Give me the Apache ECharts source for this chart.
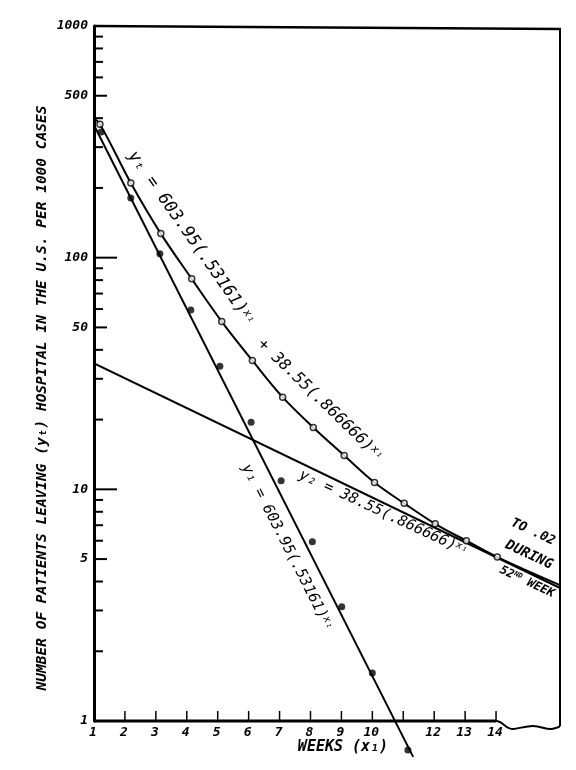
<!DOCTYPE html>
<html><head><meta charset="utf-8">
<script src="https://cdn.jsdelivr.net/npm/echarts@6/dist/echarts.min.js"></script>
<style>html,body{margin:0;padding:0;background:#fff}#c{width:576px;height:770px}</style>
</head><body><div id="c"></div>
<script>
// ---- data ----
const openWeeks   = [1.19, 2.19, 3.16, 4.16, 5.13, 6.12, 7.10, 8.09, 9.09, 10.07, 11.03, 12.03, 13.04, 14.04];
const totalValues = [377, 210, 127, 81, 53, 36, 25, 18.5, 14.0, 10.7, 8.7, 7.1, 6.0, 5.1];
const filledWeeks = [1.23, 2.19, 3.13, 4.13, 5.07, 6.08, 7.05, 8.06, 9.01, 10.0, 11.15];
const y1Values    = [349, 181, 104, 59.4, 34, 19.5, 10.9, 5.94, 3.11, 1.61, 0.75];
const y1LineWeeks = [0.87, 11.32];
const y1LineValues = [404, 0.70];
const y2LineWeeks = [0.71, 16.07];
const y2LineValues = [36.5, 3.75];
const curveStartWeek = 0.90, curveStartValue = 408;
const curveEndWeek = 16.07, curveEndValue = 3.86;
const xTickValues = [1,2,3,4,5,6,7,8,9,10,11,12,13,14];
const xTickLabels = ['1','2','3','4','5','6','7','8','9','10','','12','13','14'];
const yTickValues = [1,2,3,4,5,6,7,8,9,10,20,30,40,50,60,70,80,90,100,200,300,400,500,600,700,800,900,1000];
const yLabelValues = [1,5,10,50,100,500,1000];
const xTitle = 'WEEKS (x\u2081)';
const yTitle = 'NUMBER OF PATIENTS LEAVING (y\u209C) HOSPITAL IN THE U.S. PER 1000 CASES';

const MONO = '"DejaVu Sans Mono", monospace';
const X_MIN = 1, X_MAX = 16.1;
const chart = echarts.init(document.getElementById('c'), null, {renderer: 'canvas'});

const curveData = [[curveStartWeek, curveStartValue]]
  .concat(openWeeks.map((w, i) => [w, totalValues[i]]))
  .concat([[curveEndWeek, curveEndValue]]);

chart.setOption({
  animation: false,
  backgroundColor: '#fff',
  grid: {left: 94, top: 26, width: 467, height: 695},
  xAxis: {
    type: 'value', min: X_MIN, max: X_MAX,
    axisLine: {show: false}, axisTick: {show: false}, axisLabel: {show: false}, splitLine: {show: false}
  },
  yAxis: {
    type: 'log', logBase: 10, min: 1, max: 1000,
    axisLine: {show: true, lineStyle: {color: '#000', width: 3}},
    axisTick: {show: false}, axisLabel: {show: false}, splitLine: {show: false}, minorTick: {show: false}
  },
  series: [
    { // y ticks and labels
      type: 'custom', coordinateSystem: 'cartesian2d', clip: false, silent: true, z: 5,
      data: yTickValues.map(v => [X_MIN, v]),
      renderItem(params, api) {
        const v = api.value(1);
        const p = api.coord([X_MIN, v]);
        const len = (v === 10 || v === 100) ? 23 : (v === 5 || v === 50 || v === 500) ? 13 : 9;
        const children = [];
        if (v !== 1 && v !== 1000) children.push({type: 'line', shape: {x1: p[0], y1: p[1], x2: p[0] + len, y2: p[1]}, style: {stroke: '#000', lineWidth: 2}});
        if (yLabelValues.indexOf(v) >= 0) children.push({type: 'text', x: p[0] - 6, y: p[1], style: {text: String(v), align: 'right', verticalAlign: 'middle', font: 'italic bold 13px ' + MONO, fill: '#000'}});
        return {type: 'group', children};
      }
    },
    { // x ticks and labels
      type: 'custom', coordinateSystem: 'cartesian2d', clip: false, silent: true, z: 5,
      data: xTickValues.map(w => [w, 1]),
      renderItem(params, api) {
        const w = api.value(0);
        const p = api.coord([w, 1]);
        const children = [];
        if (w !== X_MIN) children.push({type: 'line', shape: {x1: p[0], y1: p[1], x2: p[0], y2: p[1] - 10}, style: {stroke: '#000', lineWidth: 1.5}});
        children.push({type: 'text', x: p[0] - 1, y: p[1] + 12, style: {text: xTickLabels[params.dataIndex], align: 'center', verticalAlign: 'middle', font: 'italic bold 13px ' + MONO, fill: '#000'}});
        return {type: 'group', children};
      }
    },
    {type: 'line', clip: false, silent: true, symbol: 'none', lineStyle: {color: '#000', width: 2},
      data: y1LineWeeks.map((w, i) => [w, y1LineValues[i]])},
    {type: 'line', clip: false, silent: true, symbol: 'none', lineStyle: {color: '#000', width: 2},
      data: y2LineWeeks.map((w, i) => [w, y2LineValues[i]])},
    {type: 'line', clip: false, silent: true, symbol: 'none', smooth: 0.35, lineStyle: {color: '#000', width: 2},
      data: curveData},
    {type: 'scatter', clip: false, silent: true, symbol: 'circle', symbolSize: 7, z: 6,
      itemStyle: {color: '#000'}, data: filledWeeks.map((w, i) => [w, y1Values[i]])},
    {type: 'scatter', clip: false, silent: true, symbol: 'circle', symbolSize: 6, z: 6,
      itemStyle: {color: '#fff', borderColor: '#000', borderWidth: 1.5}, data: openWeeks.map((w, i) => [w, totalValues[i]])}
  ]
});

// frame decoration and annotations
const pTopLeft = chart.convertToPixel({gridIndex: 0}, [X_MIN, 1000]);
const pStart = chart.convertToPixel({gridIndex: 0}, [X_MIN, 1]);
const pEnd14 = chart.convertToPixel({gridIndex: 0}, [14, 1]);
const pRight = chart.convertToPixel({gridIndex: 0}, [X_MAX, 1]);
const bx = pEnd14[0], by = pEnd14[1], rx = pRight[0] - 1;

function bez(x1, y1, c1x, c1y, c2x, c2y, x2, y2) {
  return {type: 'bezierCurve', silent: true, shape: {x1, y1, cpx1: c1x, cpy1: c1y, cpx2: c2x, cpy2: c2y, x2, y2}, style: {stroke: '#000', lineWidth: 2, fill: null}};
}
const deg = Math.PI / 180;
function txt(x, y, angle, text, font, rich) {
  const s = {text, font, fill: '#000', align: 'center', verticalAlign: 'middle'};
  if (rich) s.rich = rich;
  return {type: 'text', x, y, rotation: -angle * deg, silent: true, z: 10, style: s};
}
const supRich = (size, supSize) => ({
  a: {font: 'italic ' + size + 'px ' + MONO, fill: '#000', verticalAlign: 'middle'},
  b: {font: 'italic ' + supSize + 'px ' + MONO, fill: '#000', verticalAlign: 'top'}
});

chart.setOption({
  graphic: [
    {type: 'line', silent: true, shape: {x1: pStart[0], y1: pStart[1], x2: bx, y2: by}, style: {stroke: '#000', lineWidth: 3}},
    {type: 'line', silent: true, shape: {x1: pTopLeft[0], y1: pTopLeft[1], x2: rx + 1, y2: pTopLeft[1] + 3}, style: {stroke: '#000', lineWidth: 2.5}},
    {type: 'line', silent: true, shape: {x1: rx, y1: pTopLeft[1] + 3, x2: rx, y2: by + 5}, style: {stroke: '#000', lineWidth: 2}},
    bez(bx, by, bx + 7, by, bx + 10, by + 9, bx + 18, by + 8),
    bez(bx + 18, by + 8, bx + 25, by + 7, bx + 30, by + 5, bx + 37, by + 5),
    bez(bx + 37, by + 5, bx + 45, by + 5, bx + 50, by + 9, bx + 56, by + 8),
    bez(bx + 56, by + 8, rx - 3, by + 7, rx - 1, by + 6, rx, by + 5),
    txt(42, 398, -90, yTitle, 'italic bold 14.5px ' + MONO),
    txt(343, 747, 0, xTitle, 'italic bold 15px ' + MONO),
    txt(191, 238, 55, '{a|y\u209C = 603.95(.53161)}{b|x\u2081}', '', supRich(17, 11)),
    txt(320, 400, 44, '{a|+ 38.55(.866666)}{b|x\u2081}', '', supRich(16, 11)),
    txt(287, 547, 63, '{a|y\u2081 = 603.95(.53161)}{b|x\u2081}', '', supRich(15, 10)),
    txt(383, 513, 25, '{a|y\u2082 = 38.55(.866666)}{b|x\u2081}', '', supRich(15, 10)),
    txt(533, 532, 25, 'TO .02', 'italic bold 13px ' + MONO),
    txt(529, 555, 25, 'DURING', 'italic bold 14px ' + MONO),
    txt(527, 582, 25, '{a|52}{b|ND}{a| WEEK}', '', {
      a: {font: 'italic bold 12px ' + MONO, fill: '#000', verticalAlign: 'middle'},
      b: {font: 'italic bold 7px ' + MONO, fill: '#000', verticalAlign: 'top'}})
  ]
});
</script></body></html>
